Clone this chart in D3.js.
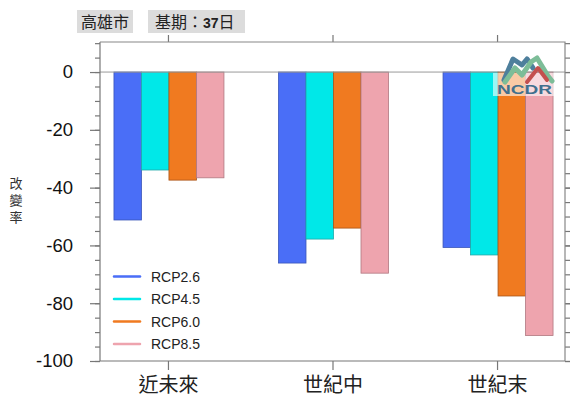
<!DOCTYPE html>
<html><head><meta charset="utf-8">
<script src="https://cdn.jsdelivr.net/npm/d3@7"></script>
<style>body{margin:0;background:#fff}svg{display:block}</style>
</head><body>
<script>
const categories = ["近未來", "世紀中", "世紀末"];
const seriesNames = ["RCP2.6", "RCP4.5", "RCP6.0", "RCP8.5"];
const seriesColors = ["#4a6ef7", "#00e8e8", "#f07a20", "#eea4ae"];
const seriesStroke = ["#3a55b8", "#22a8a8", "#a85418", "#b07880"];
const rcp26 = [-51.2, -66.1, -60.7];
const rcp45 = [-33.9, -57.8, -63.3];
const rcp60 = [-37.4, -54.0, -77.5];
const rcp85 = [-36.6, -69.6, -91.2];
const yTicks = [0, -20, -40, -60, -80, -100];
const seriesValues = [rcp26, rcp45, rcp60, rcp85];

const W = 572, H = 408;
const svg = d3.select("body").append("svg").attr("width", W).attr("height", H);
const L = 100, R = 565, T = 42, B = 361;
const font = "'Liberation Sans', Arial, sans-serif";
const cjk = "'Noto Sans CJK TC', 'Noto Sans', sans-serif";

const y = d3.scaleLinear().domain([-100, 10.4]).range([B, T]);
const x = d3.scalePoint().domain(categories).range([L, R]).padding(0.413);
const barW = 27.5;
const xs = d3.scaleBand().domain(seriesNames).range([-2 * barW + 1, 2 * barW + 1]);

// header boxes
const hdr = svg.append("g");
hdr.append("rect").attr("x", 77).attr("y", 10).attr("width", 56).attr("height", 23).attr("fill", "#dcdcdc");
hdr.append("text").attr("x", 105).attr("y", 28).attr("text-anchor", "middle").attr("font-family", cjk).attr("font-size", 16).attr("fill", "#222").text("高雄市");
hdr.append("rect").attr("x", 148).attr("y", 10).attr("width", 97).attr("height", 23).attr("fill", "#dcdcdc");
const t2 = hdr.append("text").attr("x", 155).attr("y", 28).attr("font-family", cjk).attr("font-size", 16).attr("fill", "#222");
t2.append("tspan").text("基期：");
t2.append("tspan").attr("font-family", font).attr("font-weight", "bold").attr("font-size", 14).text("37");
t2.append("tspan").text("日");

// bars
const groups = svg.append("g");
seriesValues.forEach((vals, si) => {
  groups.selectAll(null).data(vals).enter().append("rect")
    .attr("x", (d, i) => x(categories[i]) + xs(seriesNames[si]))
    .attr("y", y(0))
    .attr("width", xs.bandwidth())
    .attr("height", d => y(d) - y(0))
    .attr("fill", seriesColors[si])
    .attr("stroke", seriesStroke[si]).attr("stroke-width", 0.8);
});

// zero line
svg.append("line").attr("x1", L).attr("x2", R).attr("y1", y(0)).attr("y2", y(0)).attr("stroke", "#999").attr("stroke-width", 1);

// frame / axes
const axCol = "#777";
const minor = d3.range(-100, 11, 5);
const leftAx = d3.axisLeft(y).tickValues(minor).tickSize(5).tickFormat("");
const gl = svg.append("g").attr("transform", `translate(${L},0)`).call(leftAx);
const rightAx = d3.axisRight(y).tickValues(minor).tickSize(5).tickFormat("");
const gr = svg.append("g").attr("transform", `translate(${R},0)`).call(rightAx);
const majL = d3.axisLeft(y).tickValues(yTicks).tickSize(10).tickPadding(17).tickFormat(d3.format("d"));
const gml = svg.append("g").attr("transform", `translate(${L},0)`).call(majL);
const majR = d3.axisRight(y).tickValues(yTicks).tickSize(5).tickFormat("");
const gmr = svg.append("g").attr("transform", `translate(${R},0)`).call(majR);
const botAx = d3.axisBottom(x).tickSize(9).tickPadding(8);
const gb = svg.append("g").attr("transform", `translate(0,${B})`).call(botAx);
const topAx = d3.axisTop(x).tickSize(7).tickFormat("");
const gt = svg.append("g").attr("transform", `translate(0,${T})`).call(topAx);
[gl, gr, gml, gmr, gb, gt].forEach(g => {
  g.selectAll(".domain").attr("stroke", axCol).attr("stroke-width", 1.2);
  g.selectAll(".tick line").attr("stroke", axCol).attr("stroke-width", 1.2);
});
[gl, gr, gmr, gt].forEach(g => g.select(".domain").remove());
gml.select(".domain").attr("d", `M0,${T}V${B}`);
gb.select(".domain").attr("d", `M${L},0H${R}`);
svg.append("path").attr("d", `M${L},${T}H${R}V${B}`).attr("fill", "none").attr("stroke", "#888").attr("stroke-width", 1.2);
gml.selectAll(".tick text").attr("font-family", font).attr("font-size", 18.5).attr("fill", "#111")
  .text(d => d === 0 ? "0" : "-" + Math.abs(d));
gb.selectAll(".tick text").attr("font-family", cjk).attr("font-size", 20).attr("fill", "#222");

// y title (single vertical text)
svg.append("text").attr("x", 16).attr("y", 177)
  .attr("writing-mode", "tb").style("writing-mode", "vertical-rl")
  .attr("letter-spacing", 4).attr("font-family", cjk).attr("font-size", 13).attr("fill", "#333")
  .text("改變率");

// legend
const lg = svg.append("g");
seriesNames.forEach((n, i) => {
  const yy = 276.5 + i * 22.5;
  lg.append("line").attr("x1", 114).attr("x2", 140).attr("y1", yy).attr("y2", yy)
    .attr("stroke", seriesColors[i]).attr("stroke-width", 2.5).attr("stroke-linecap", "round");
  lg.append("text").attr("x", 151).attr("y", yy + 5).attr("font-family", font).attr("font-size", 14).attr("fill", "#222").text(n);
});

// NCDR logo
const logo = svg.append("g");
logo.append("rect").attr("x", 493).attr("y", 73).attr("width", 62).attr("height", 23).attr("fill", "rgba(255,255,255,0.6)");
logo.append("path").attr("d", "M504,80 L513,59 L522,65 L527,59 L533,68").attr("fill", "none").attr("stroke", "#4e7f9c").attr("stroke-width", 5).attr("stroke-linejoin", "round").attr("stroke-linecap", "round");
logo.append("path").attr("d", "M505,82 L515,68 L522,75 L531,62 L537,58 L548,76 L552,81").attr("fill", "none").attr("stroke", "#7dbd98").attr("stroke-width", 5).attr("stroke-linejoin", "round").attr("stroke-linecap", "round");
logo.append("path").attr("d", "M527,82 L538,68 L547,80").attr("fill", "none").attr("stroke", "#c4504e").attr("stroke-width", 4).attr("stroke-linejoin", "round").attr("stroke-linecap", "round");
logo.append("text").attr("x", 497).attr("y", 94).attr("font-family", font).attr("font-weight", "bold").attr("font-size", 13).attr("fill", "#41708e").attr("textLength", 55).attr("lengthAdjust", "spacingAndGlyphs").text("NCDR");
</script>
</body></html>
